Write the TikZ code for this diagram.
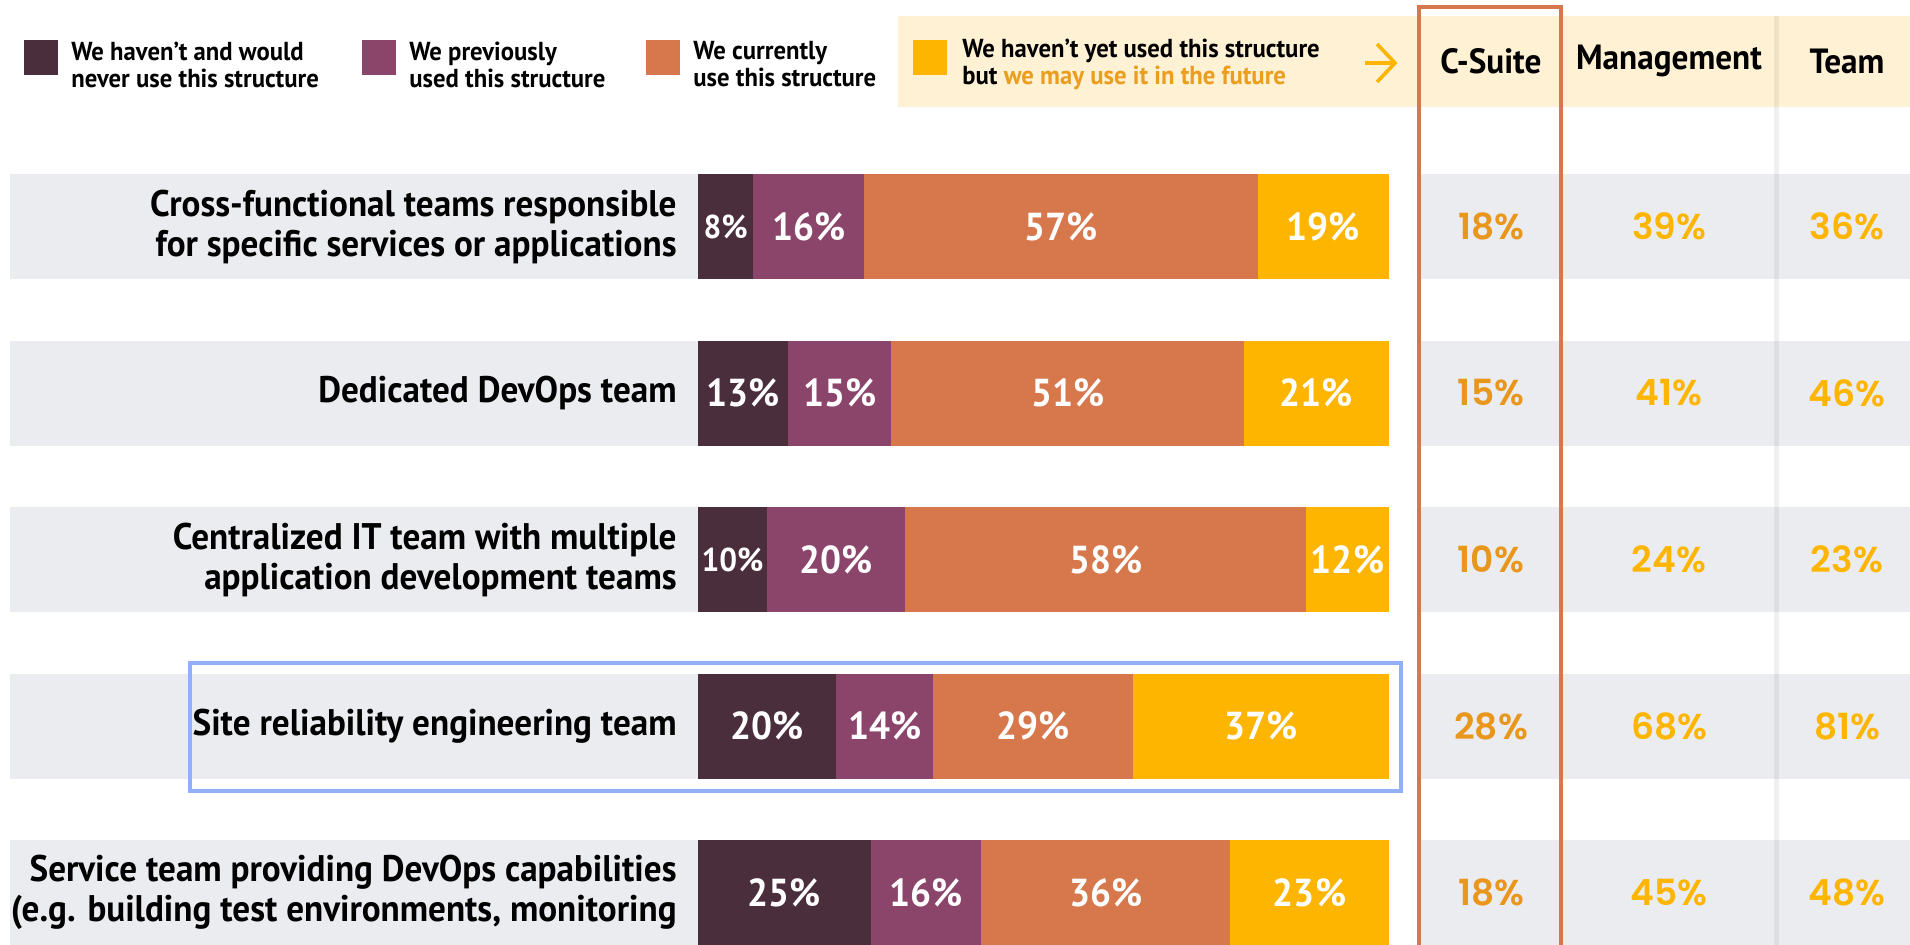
\documentclass[tikz,border=0pt]{standalone}
\usepackage{fontspec}
\setmainfont{PT Sans}
\newfontfamily\lblfont{PT Sans}[FakeStretch=0.95]
\newfontfamily\numfont{Poppins SemiBold}
\definecolor{cdark}{HTML}{4A2E3C}
\definecolor{cpurple}{HTML}{8B456A}
\definecolor{corange}{HTML}{D7774C}
\definecolor{cyellow}{HTML}{FDB500}
\definecolor{cband}{HTML}{EBECF0}
\definecolor{clegbg}{HTML}{FFF1D4}
\definecolor{ccsuite}{HTML}{E8961C}
\definecolor{cblue}{HTML}{90B0F8}
\definecolor{cfuture}{HTML}{EB9D1E}
\tikzset{
  lbl/.style={font=\lblfont\bfseries\fontsize{18.5}{20}\selectfont, align=right, anchor=east, inner sep=0pt},
  pct/.style={font=\lblfont\bfseries\fontsize{19.5}{22}\selectfont, text=white, inner sep=0pt},
  pcts/.style={font=\lblfont\bfseries\fontsize{16.5}{19}\selectfont, text=white, inner sep=0pt},
  num/.style={font=\numfont\fontsize{18}{21}\selectfont, inner sep=0pt, text=cyellow},
  numcs/.style={num, text=ccsuite},
  hdr/.style={font=\lblfont\bfseries\fontsize{17.5}{20}\selectfont, inner sep=0pt},
  leg/.style={font=\lblfont\bfseries\fontsize{13}{13.5}\selectfont, align=left, anchor=west, inner sep=0pt},
}
\newcommand\barrow[7]{%
  \pgfmathsetmacro\xb{698+6.91*#3}%
  \pgfmathsetmacro\xc{\xb+6.91*#4}%
  \pgfmathsetmacro\xd{\xc+6.91*#5}%
  \pgfmathsetmacro\yb{#2+105}%
  \pgfmathsetmacro\ym{#2+52.5}%
  \fill[cband] (10,#2) rectangle (698,\yb);
  \fill[cband] (1419,#2) rectangle (1910,\yb);
  \fill[cdark] (698,#2) rectangle (\xb,\yb);
  \fill[cpurple] (\xb,#2) rectangle (\xc,\yb);
  \fill[corange] (\xc,#2) rectangle (\xd,\yb);
  \fill[cyellow] (\xd,#2) rectangle (1389,\yb);
  \node[#7] (#1a) at ({(698+\xb)/2},\ym) {#3\%};
  \node[pct] (#1b) at ({(\xb+\xc)/2},\ym) {#4\%};
  \node[pct] (#1c) at ({(\xc+\xd)/2},\ym) {#5\%};
  \node[pct] (#1d) at ({(\xd+1389)/2},\ym) {#6\%};
}
\begin{document}
\begin{tikzpicture}[x=0.5pt,y=-0.5pt]
\useasboundingbox (0,0) rectangle (1910,944);
% legend background
\fill[clegbg] (898,16) rectangle (1910,107);
% rows
\barrow{r1}{174}{8}{16}{57}{19}{pcts}
\barrow{r2}{340.5}{13}{15}{51}{21}{pct}
\barrow{r3}{507}{10}{20}{58}{12}{pcts}
\barrow{r4}{673.5}{20}{14}{29}{37}{pct}
\barrow{r5}{840}{25}{16}{36}{23}{pct}
% faint column separator
\draw[black, opacity=0.06, line width=2.5pt] (1776,16) -- (1776,946);
% C-Suite highlight
\draw[corange, line width=2.25pt] (1419,950) -- (1419,7) -- (1561,7) -- (1561,950);
% SRE highlight
\draw[cblue, line width=2.25pt] (190,663) rectangle (1401,791);
% legend
\fill[cdark] (24,40) rectangle (58,75);
\node[leg] (l1) at (71,64.5) {We haven’t and would\\never use this structure};
\fill[cpurple] (362,40) rectangle (396,75);
\node[leg] (l2) at (409,64.5) {We previously\\used this structure};
\fill[corange] (646,40) rectangle (680,75);
\node[leg] (l3) at (693,64.5) {We currently\\use this structure};
\fill[cyellow] (913,40) rectangle (947,75);
\node[leg] (l4) at (962,64.5) {We haven’t yet used this structure\\but {\color{cfuture}we may use it in the future}};
\coordinate (as) at (1365,63);
\coordinate (ae) at (1395,63);
\draw[cyellow, line width=1.8pt] (as) -- (ae);
\draw[cyellow, line width=1.8pt, line join=miter] (1377,44) -- (ae) -- (1377,82);
% headers
\node[hdr] (hcs) at (1491,61) {C-Suite};
\node[hdr] (hmg) at (1669,61) {Management};
\node[hdr] (htm) at (1847,61) {Team};
% row labels
\node[lbl] (t1) at (677,226.5) {Cross-functional teams responsible\\for specific services or applications};
\node[lbl] (t2) at (677,393) {Dedicated DevOps team};
\node[lbl] (t3) at (677,559.5) {Centralized IT team with multiple\\application development teams};
\node[lbl] (t4) at (677,726) {Site reliability engineering team};
\node[lbl] (t5) at (677,892.5) {Service team providing DevOps capabilities\\(e.g. building test environments, monitoring};
% right columns
\node[numcs] (c1) at (1491,226.5) {18\%};
\node[num] (m1) at (1669,226.5) {39\%};
\node[num] (e1) at (1847,226.5) {36\%};
\node[numcs] (c2) at (1491,393) {15\%};
\node[num] (m2) at (1669,393) {41\%};
\node[num] (e2) at (1847,393) {46\%};
\node[numcs] (c3) at (1491,559.5) {10\%};
\node[num] (m3) at (1669,559.5) {24\%};
\node[num] (e3) at (1847,559.5) {23\%};
\node[numcs] (c4) at (1491,726) {28\%};
\node[num] (m4) at (1669,726) {68\%};
\node[num] (e4) at (1847,726) {81\%};
\node[numcs] (c5) at (1491,892.5) {18\%};
\node[num] (m5) at (1669,892.5) {45\%};
\node[num] (e5) at (1847,892.5) {48\%};
\end{tikzpicture}
\end{document}
